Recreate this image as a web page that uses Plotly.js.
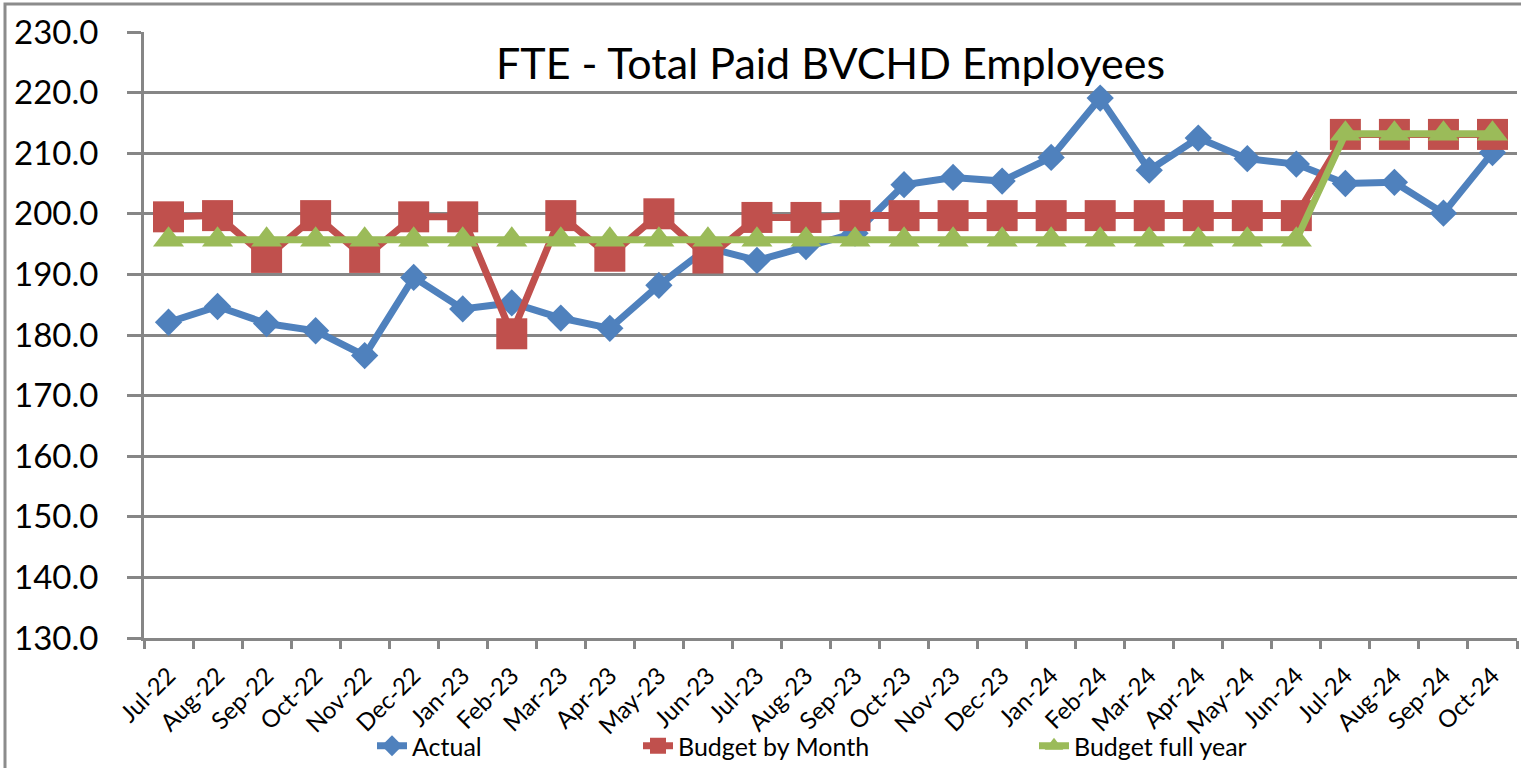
<!DOCTYPE html>
<html>
<head>
<meta charset="utf-8">
<script src="https://cdn.plot.ly/plotly-3.0.1.min.js"></script>
<style>
  html, body { margin: 0; padding: 0; background: #ffffff; }
  #chart { width: 1521px; height: 768px; }
</style>
</head>
<body>
<div id="chart"></div>
<script>
const months = ['Jul-22','Aug-22','Sep-22','Oct-22','Nov-22','Dec-22','Jan-23','Feb-23','Mar-23','Apr-23','May-23','Jun-23',
                'Jul-23','Aug-23','Sep-23','Oct-23','Nov-23','Dec-23','Jan-24','Feb-24','Mar-24','Apr-24','May-24','Jun-24',
                'Jul-24','Aug-24','Sep-24','Oct-24'];

const actual = [182.1, 184.7, 181.9, 180.7, 176.6, 189.5, 184.3, 185.3, 182.8, 181.1, 188.2, 194.4,
                192.3, 194.6, 196.8, 204.8, 206.0, 205.4, 209.3, 219.1, 207.2, 212.5, 209.1, 208.2,
                205.0, 205.2, 200.1, 210.1];

const budgetByMonth = [199.5, 199.7, 192.8, 199.7, 192.8, 199.5, 199.5, 180.2, 199.7, 193.0, 200.0, 192.7,
                       199.4, 199.4, 199.7, 199.7, 199.7, 199.7, 199.7, 199.7, 199.7, 199.7, 199.7, 199.7,
                       213.1, 213.1, 213.1, 213.1];

const budgetFullYear = [195.7, 195.7, 195.7, 195.7, 195.7, 195.7, 195.7, 195.7, 195.7, 195.7, 195.7, 195.7,
                        195.7, 195.7, 195.7, 195.7, 195.7, 195.7, 195.7, 195.7, 195.7, 195.7, 195.7, 195.7,
                        213.2, 213.2, 213.2, 213.2];

const yTicks = [130, 140, 150, 160, 170, 180, 190, 200, 210, 220, 230];
const yTickText = yTicks.map(v => v.toFixed(1));

const seriesNames = ['Actual', 'Budget by Month', 'Budget full year'];
const colors = ['#4F81BD', '#C0504D', '#9BBB59'];

const FONT = 'Lato, Calibri, Carlito, "Open Sans", sans-serif';

const traceActual = {
  x: months, y: actual, name: seriesNames[0], type: 'scatter', mode: 'lines+markers',
  line: {color: colors[0], width: 7},
  marker: {symbol: 'diamond', size: 21, color: colors[0]},
  legend: 'legend'
};
const traceBudgetMonth = {
  x: months, y: budgetByMonth, name: seriesNames[1], type: 'scatter', mode: 'lines+markers',
  line: {color: colors[1], width: 7},
  marker: {symbol: 'square', size: 31, color: colors[1]},
  legend: 'legend2'
};
const traceBudgetYear = {
  x: months, y: budgetFullYear, name: seriesNames[2], type: 'scatter', mode: 'lines+markers',
  line: {color: colors[2], width: 7},
  marker: {symbol: 'triangle-up', size: 27, color: colors[2]},
  legend: 'legend3'
};

const data = [traceActual, traceBudgetMonth, traceBudgetYear];

const W = 1521, H = 768;
const L = 144, R = 4, T = 32, B = 130;
const pw = W - L - R, ph = H - T - B;
const px = xp => (xp - L) / pw;
const py = yp => (H - B - yp) / ph;

const legendCommon = {
  orientation: 'h', xanchor: 'left', yanchor: 'middle',
  font: {family: FONT, size: 25, color: '#000'},
  bgcolor: 'rgba(0,0,0,0)', borderwidth: 0,
  xref: 'paper', yref: 'paper', itemwidth: 30
};

const layout = {
  width: W, height: H,
  margin: {l: L, r: R, t: T, b: B, autoexpand: false},
  paper_bgcolor: '#ffffff', plot_bgcolor: '#ffffff',
  font: {family: FONT, color: '#000'},
  title: {
    text: 'FTE - Total Paid BVCHD Employees',
    font: {family: FONT, size: 43, color: '#000'},
    x: 0.5, xref: 'paper', xanchor: 'center',
    y: 1 - 64 / H, yref: 'container', yanchor: 'middle'
  },
  xaxis: {
    type: 'category', categoryorder: 'array', categoryarray: months,
    range: [-0.5, months.length - 0.5],
    tickangle: -45, tickson: 'boundaries',
    ticks: 'outside', ticklen: 8, tickwidth: 3, tickcolor: '#868686',
    showline: true, linecolor: '#868686', linewidth: 3,
    showgrid: false, zeroline: false,
    tickfont: {family: FONT, size: 24, color: '#000'},
    ticklabelstandoff: 11,
    automargin: false
  },
  yaxis: {
    range: [130, 230], tickvals: yTicks, ticktext: yTickText,
    ticks: 'outside', ticklen: 14, tickwidth: 3, tickcolor: '#868686',
    showline: true, linecolor: '#868686', linewidth: 3,
    showgrid: true, gridcolor: '#868686', gridwidth: 3,
    zeroline: false,
    tickfont: {family: FONT, size: 33, color: '#000'},
    ticklabelstandoff: 22,
    automargin: false
  },
  legend: Object.assign({}, legendCommon, {x: px(372), y: py(746)}),
  legend2: Object.assign({}, legendCommon, {x: px(638), y: py(746)}),
  legend3: Object.assign({}, legendCommon, {x: px(1034), y: py(746)}),
  shapes: [
    {type: 'path', xref: 'paper', yref: 'paper',
     path: `M ${px(5)} ${py(H + 10)} L ${px(5)} ${py(4)} L ${px(W + 10)} ${py(4)}`,
     line: {color: '#8c8c8c', width: 3}}
  ],
  showlegend: true
};

Plotly.newPlot('chart', data, layout, {displayModeBar: false, staticPlot: true});
</script>
</body>
</html>
